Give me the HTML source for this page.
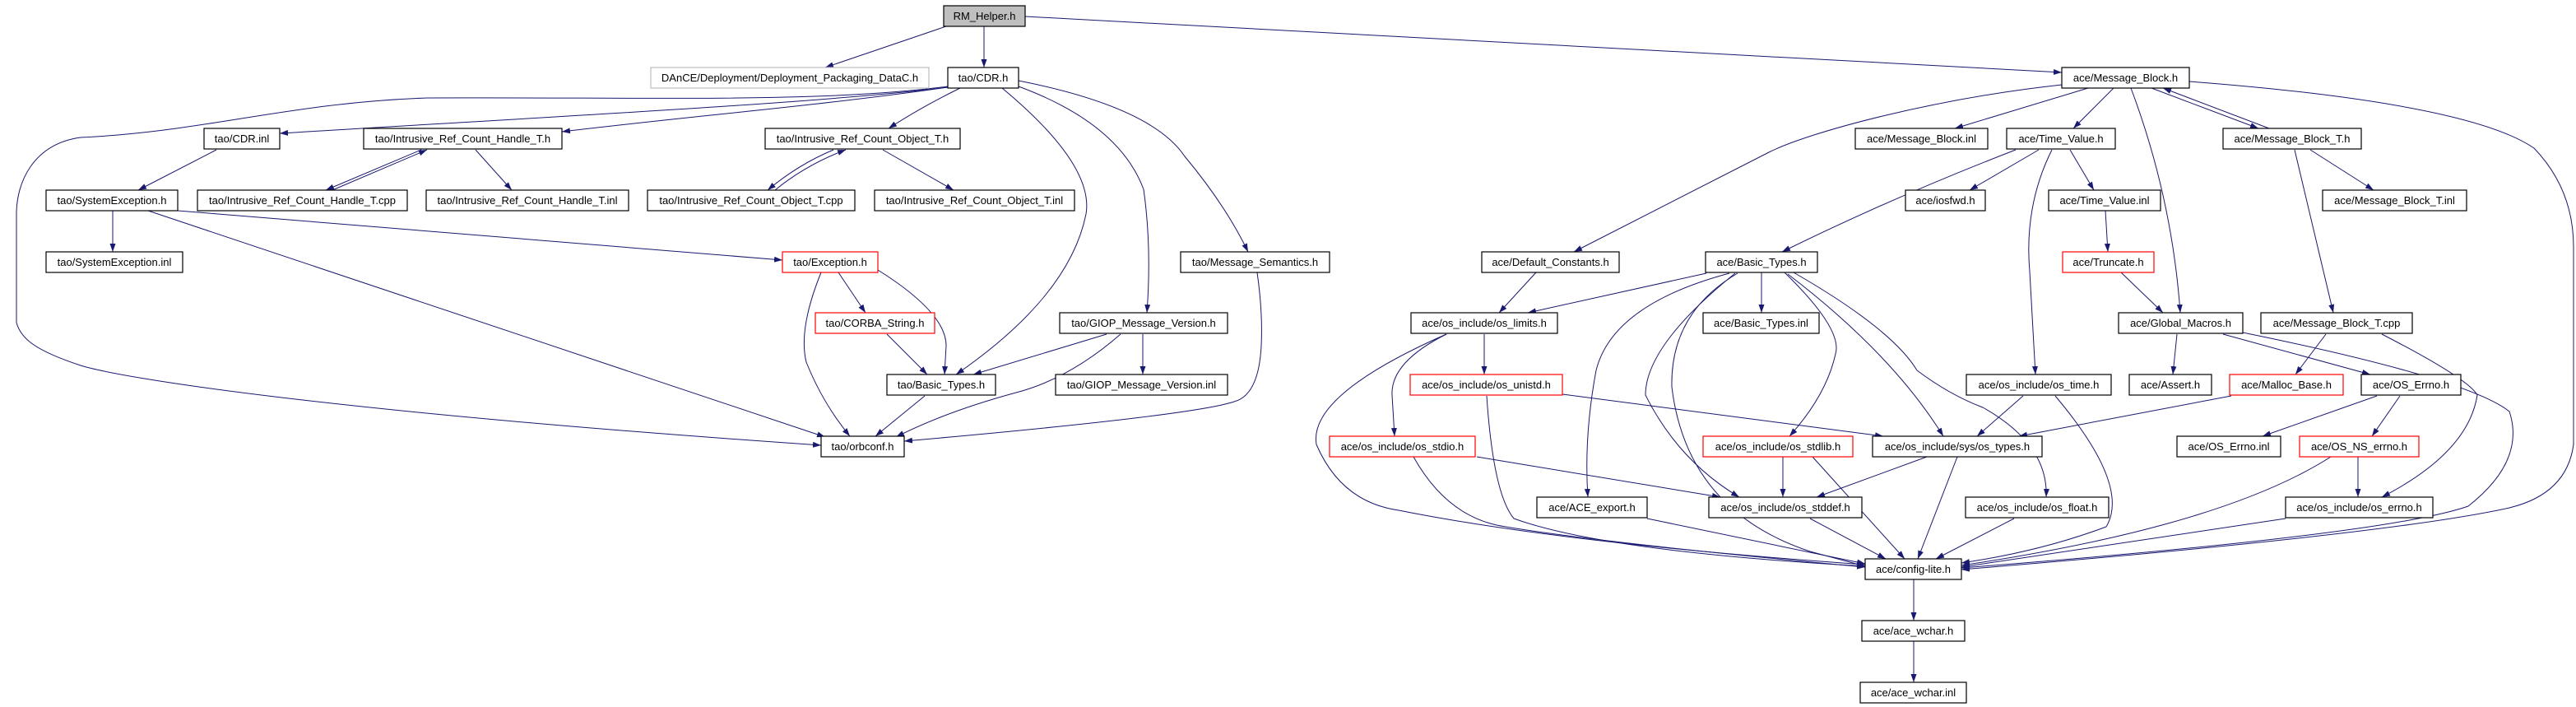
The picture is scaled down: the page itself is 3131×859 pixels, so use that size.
<!DOCTYPE html>
<html><head><meta charset="utf-8"><style>
html,body{margin:0;padding:0;background:#fff;}
svg{display:block;}
text{font-family:"Liberation Sans",sans-serif;font-size:13px;fill:#000;}
</style></head><body>
<svg width="3131" height="859" viewBox="0 0 3131 859" xmlns="http://www.w3.org/2000/svg">
<defs><marker id="a" markerWidth="10" markerHeight="7" refX="10" refY="3.5" orient="auto" markerUnits="userSpaceOnUse"><path d="M0,0 L10,3.5 L0,7 z" fill="#191970"/></marker></defs>
<g fill="none" stroke="#191970" stroke-width="1" marker-end="url(#a)">
<path d="M1150,32 L1003,82"/>
<path d="M1196,32 L1196,82"/>
<path d="M1246,20 L2506,88"/>
<path d="M1152,106 C1000,125 700,140 340,162"/>
<path d="M1152,106 C1000,128 850,140 683,160"/>
<path d="M1152,105 C1000,125 800,118 519,119 C350,125 250,160 98,167 C40,175 20,222 20,260 L20,392 C25,410 40,425 98,444 C150,460 400,500 998,541"/>
<path d="M1167,107 Q1120,130 1080,156"/>
<path d="M1218,107 Q1330,200 1320,260 Q1300,360 1162,455"/>
<path d="M1238,105 Q1360,150 1390,230 Q1400,300 1394,380"/>
<path d="M1238,98 Q1400,130 1440,190 Q1490,250 1517,306"/>
<path d="M263,182 L168,231"/>
<path d="M512,182 L396,231"/>
<path d="M404,231 L519,182"/>
<path d="M578,182 L622,231"/>
<path d="M1013,182 Q970,200 933,231"/>
<path d="M942,231 Q980,200 1028,182"/>
<path d="M1073,182 L1159,231"/>
<path d="M137,256 L137,306"/>
<path d="M216,256 L951,316"/>
<path d="M180,256 L1003,531"/>
<path d="M1019,331 L1052,380"/>
<path d="M998,331 Q970,400 980,440 Q1000,490 1033,530"/>
<path d="M1067,328 Q1150,380 1150,420 L1148,455"/>
<path d="M1078,406 L1127,455"/>
<path d="M1345,406 L1183,455"/>
<path d="M1362,406 Q1300,460 1235,477 Q1150,500 1089,531"/>
<path d="M1389,406 L1389,455"/>
<path d="M1124,481 L1064,530"/>
<path d="M1528,331 Q1535,380 1533,420 Q1530,480 1500,488 Q1450,505 1099,536"/>
<path d="M2506,103 C2350,120 2200,160 2150,185 L1913,306"/>
<path d="M2538,107 L2376,156"/>
<path d="M2569,107 L2520,156"/>
<path d="M2590,107 Q2640,240 2650,380"/>
<path d="M2615,107 L2745,156"/>
<path d="M2758,156 L2629,107"/>
<path d="M2661,99 Q3000,125 3080,180 Q3128,230 3128,300 L3128,540 Q3120,600 3050,617 Q2900,650 2384,692"/>
<path d="M2450,182 Q2300,240 2166,306"/>
<path d="M2478,182 L2394,231"/>
<path d="M2494,182 Q2460,250 2467,330 L2474,455"/>
<path d="M2516,182 L2545,231"/>
<path d="M2559,256 L2562,306"/>
<path d="M2578,331 L2629,380"/>
<path d="M2789,182 L2836,380"/>
<path d="M2808,182 L2885,231"/>
<path d="M2646,406 L2641,455"/>
<path d="M2702,406 L2881,455"/>
<path d="M2726,404 Q3000,460 3050,500 Q3070,560 3000,615 Q2900,650 2384,690"/>
<path d="M2827,406 L2790,455"/>
<path d="M2895,406 Q3000,460 3011,480 Q3000,550 2895,604"/>
<path d="M2712,481 L2454,530"/>
<path d="M2889,481 L2750,530"/>
<path d="M2917,481 L2883,530"/>
<path d="M2866,555 L2866,604"/>
<path d="M2833,555 Q2700,640 2384,687"/>
<path d="M2778,630 L2384,689"/>
<path d="M2459,481 L2403,530"/>
<path d="M2498,481 Q2590,590 2560,640 Q2480,670 2384,684"/>
<path d="M1867,331 L1822,380"/>
<path d="M2074,332 L1857,380"/>
<path d="M2141,331 L2141,380"/>
<path d="M2169,331 Q2240,400 2231,430 Q2220,480 2175,530"/>
<path d="M2173,333 Q2300,430 2362,530"/>
<path d="M2180,331 Q2300,400 2330,450 Q2370,480 2410,495 Q2490,540 2487,604"/>
<path d="M2102,332 Q1960,370 1940,450 Q1925,530 1930,604"/>
<path d="M2109,332 Q2000,420 2000,480 Q2040,560 2114,604"/>
<path d="M2112,332 Q2030,380 2032,470 Q2050,620 2200,670 L2267,688"/>
<path d="M1804,406 L1804,455"/>
<path d="M1758,406 Q1690,440 1692,480 L1695,530"/>
<path d="M1758,406 Q1590,480 1600,540 Q1630,610 1700,620 Q1900,660 2267,686"/>
<path d="M1899,479 L2289,530"/>
<path d="M1807,481 Q1815,600 1840,630 Q1950,670 2267,688"/>
<path d="M1795,555 L2091,604"/>
<path d="M1718,555 Q1760,630 1830,640 Q1950,660 2267,689"/>
<path d="M2167,555 L2167,604"/>
<path d="M2203,555 L2315,679"/>
<path d="M2342,555 L2208,604"/>
<path d="M2379,555 L2331,679"/>
<path d="M2200,630 L2292,679"/>
<path d="M2002,630 L2267,685"/>
<path d="M2448,630 L2353,679"/>
<path d="M2326,704 L2326,754"/>
<path d="M2326,779 L2326,829"/>
</g>
<g stroke-width="1.2">
<rect x="1147" y="7" width="99" height="25" fill="#bfbfbf" stroke="#000"/><text x="1196.5" y="24" text-anchor="middle">RM_Helper.h</text>
<rect x="791" y="82" width="338" height="25" fill="#fff" stroke="#bfbfbf"/><text x="960" y="99" text-anchor="middle">DAnCE/Deployment/Deployment_Packaging_DataC.h</text>
</g>
<g fill="#fff" stroke="#000" stroke-width="1.2" id="n"></g>
<g stroke-width="1.2" fill="#fff">
<rect x="1152" y="82" width="86" height="25" stroke="#000"/><text x="1195" y="99" text-anchor="middle">tao/CDR.h</text>
<rect x="2506" y="82" width="155" height="25" stroke="#000"/><text x="2583.5" y="99" text-anchor="middle">ace/Message_Block.h</text>
<rect x="248" y="156" width="92" height="25" stroke="#000"/><text x="294" y="173" text-anchor="middle">tao/CDR.inl</text>
<rect x="442" y="156" width="241" height="25" stroke="#000"/><text x="562.5" y="173" text-anchor="middle">tao/Intrusive_Ref_Count_Handle_T.h</text>
<rect x="930" y="156" width="237" height="25" stroke="#000"/><text x="1048.5" y="173" text-anchor="middle">tao/Intrusive_Ref_Count_Object_T.h</text>
<rect x="2255" y="156" width="161" height="25" stroke="#000"/><text x="2335.5" y="173" text-anchor="middle">ace/Message_Block.inl</text>
<rect x="2439" y="156" width="132" height="25" stroke="#000"/><text x="2505" y="173" text-anchor="middle">ace/Time_Value.h</text>
<rect x="2702" y="156" width="168" height="25" stroke="#000"/><text x="2786" y="173" text-anchor="middle">ace/Message_Block_T.h</text>
<rect x="56" y="231" width="160" height="25" stroke="#000"/><text x="136" y="248" text-anchor="middle">tao/SystemException.h</text>
<rect x="240" y="231" width="255" height="25" stroke="#000"/><text x="367.5" y="248" text-anchor="middle">tao/Intrusive_Ref_Count_Handle_T.cpp</text>
<rect x="518" y="231" width="246" height="25" stroke="#000"/><text x="641" y="248" text-anchor="middle">tao/Intrusive_Ref_Count_Handle_T.inl</text>
<rect x="787" y="231" width="252" height="25" stroke="#000"/><text x="913" y="248" text-anchor="middle">tao/Intrusive_Ref_Count_Object_T.cpp</text>
<rect x="1063" y="231" width="243" height="25" stroke="#000"/><text x="1184.5" y="248" text-anchor="middle">tao/Intrusive_Ref_Count_Object_T.inl</text>
<rect x="2316" y="231" width="97" height="25" stroke="#000"/><text x="2364.5" y="248" text-anchor="middle">ace/iosfwd.h</text>
<rect x="2490" y="231" width="136" height="25" stroke="#000"/><text x="2558" y="248" text-anchor="middle">ace/Time_Value.inl</text>
<rect x="2823" y="231" width="175" height="25" stroke="#000"/><text x="2910.5" y="248" text-anchor="middle">ace/Message_Block_T.inl</text>
<rect x="56" y="306" width="166" height="25" stroke="#000"/><text x="139" y="323" text-anchor="middle">tao/SystemException.inl</text>
<rect x="951" y="306" width="116" height="25" stroke="#f00"/><text x="1009" y="323" text-anchor="middle">tao/Exception.h</text>
<rect x="1435" y="306" width="181" height="25" stroke="#000"/><text x="1525.5" y="323" text-anchor="middle">tao/Message_Semantics.h</text>
<rect x="1801" y="306" width="167" height="25" stroke="#000"/><text x="1884.5" y="323" text-anchor="middle">ace/Default_Constants.h</text>
<rect x="2073" y="306" width="136" height="25" stroke="#000"/><text x="2141" y="323" text-anchor="middle">ace/Basic_Types.h</text>
<rect x="2507" y="306" width="111" height="25" stroke="#f00"/><text x="2562.5" y="323" text-anchor="middle">ace/Truncate.h</text>
<rect x="991" y="380" width="145" height="25" stroke="#f00"/><text x="1063.5" y="397" text-anchor="middle">tao/CORBA_String.h</text>
<rect x="1288" y="380" width="204" height="25" stroke="#000"/><text x="1390" y="397" text-anchor="middle">tao/GIOP_Message_Version.h</text>
<rect x="1715" y="380" width="178" height="25" stroke="#000"/><text x="1804" y="397" text-anchor="middle">ace/os_include/os_limits.h</text>
<rect x="2070" y="380" width="141" height="25" stroke="#000"/><text x="2140.5" y="397" text-anchor="middle">ace/Basic_Types.inl</text>
<rect x="2575" y="380" width="151" height="25" stroke="#000"/><text x="2650.5" y="397" text-anchor="middle">ace/Global_Macros.h</text>
<rect x="2748" y="380" width="184" height="25" stroke="#000"/><text x="2840" y="397" text-anchor="middle">ace/Message_Block_T.cpp</text>
<rect x="1078" y="455" width="132" height="25" stroke="#000"/><text x="1144" y="472" text-anchor="middle">tao/Basic_Types.h</text>
<rect x="1283" y="455" width="209" height="25" stroke="#000"/><text x="1387.5" y="472" text-anchor="middle">tao/GIOP_Message_Version.inl</text>
<rect x="1714" y="455" width="185" height="25" stroke="#f00"/><text x="1806.5" y="472" text-anchor="middle">ace/os_include/os_unistd.h</text>
<rect x="2390" y="455" width="176" height="25" stroke="#000"/><text x="2478" y="472" text-anchor="middle">ace/os_include/os_time.h</text>
<rect x="2588" y="455" width="100" height="25" stroke="#000"/><text x="2638" y="472" text-anchor="middle">ace/Assert.h</text>
<rect x="2710" y="455" width="138" height="25" stroke="#f00"/><text x="2779" y="472" text-anchor="middle">ace/Malloc_Base.h</text>
<rect x="2870" y="455" width="121" height="25" stroke="#000"/><text x="2930.5" y="472" text-anchor="middle">ace/OS_Errno.h</text>
<rect x="998" y="530" width="101" height="25" stroke="#000"/><text x="1048.5" y="547" text-anchor="middle">tao/orbconf.h</text>
<rect x="1616" y="530" width="177" height="25" stroke="#f00"/><text x="1704.5" y="547" text-anchor="middle">ace/os_include/os_stdio.h</text>
<rect x="2070" y="530" width="182" height="25" stroke="#f00"/><text x="2161" y="547" text-anchor="middle">ace/os_include/os_stdlib.h</text>
<rect x="2276" y="530" width="206" height="25" stroke="#000"/><text x="2379" y="547" text-anchor="middle">ace/os_include/sys/os_types.h</text>
<rect x="2646" y="530" width="126" height="25" stroke="#000"/><text x="2709" y="547" text-anchor="middle">ace/OS_Errno.inl</text>
<rect x="2795" y="530" width="145" height="25" stroke="#f00"/><text x="2867.5" y="547" text-anchor="middle">ace/OS_NS_errno.h</text>
<rect x="1868" y="604" width="134" height="25" stroke="#000"/><text x="1935" y="621" text-anchor="middle">ace/ACE_export.h</text>
<rect x="2077" y="604" width="186" height="25" stroke="#000"/><text x="2170" y="621" text-anchor="middle">ace/os_include/os_stddef.h</text>
<rect x="2389" y="604" width="174" height="25" stroke="#000"/><text x="2476" y="621" text-anchor="middle">ace/os_include/os_float.h</text>
<rect x="2778" y="604" width="179" height="25" stroke="#000"/><text x="2867.5" y="621" text-anchor="middle">ace/os_include/os_errno.h</text>
<rect x="2267" y="679" width="117" height="25" stroke="#000"/><text x="2325.5" y="696" text-anchor="middle">ace/config-lite.h</text>
<rect x="2263" y="754" width="125" height="25" stroke="#000"/><text x="2325.5" y="771" text-anchor="middle">ace/ace_wchar.h</text>
<rect x="2261" y="829" width="129" height="25" stroke="#000"/><text x="2325.5" y="846" text-anchor="middle">ace/ace_wchar.inl</text>
</g>
</svg>
</body></html>
